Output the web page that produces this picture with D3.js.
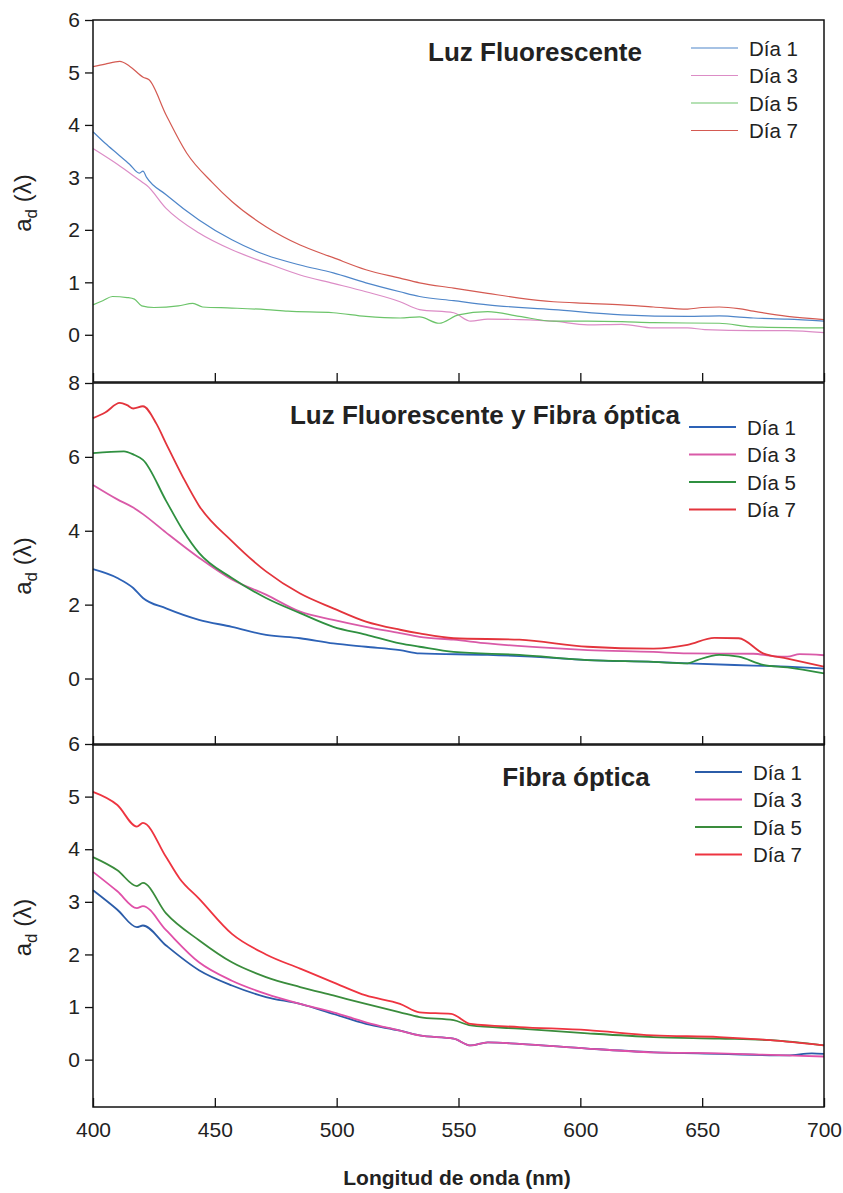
<!DOCTYPE html>
<html>
<head>
<meta charset="utf-8">
<script src="https://cdn.jsdelivr.net/npm/d3@7"></script>
<style>
  body { margin: 0; background: #fff; }
  text { font-family: "Liberation Sans", Arial, sans-serif; fill: #222; }
</style>
</head>
<body>
<div id="chart"></div>
<script>
// wavelength ticks
const xTicks = [400, 450, 500, 550, 600, 650, 700];
const dayLabels = ["Día 1", "Día 3", "Día 5", "Día 7"];

// Panel 1: Luz Fluorescente  [nm, a_d]
const fl_d1 = [[400,3.87],[405,3.65],[410,3.45],[415,3.25],[419,3.08],[420.5,3.12],[422,3.0],[430,2.67],[443.5,2.19],[457,1.81],[471,1.52],[485,1.33],[498.6,1.18],[512,0.99],[526,0.82],[534,0.73],[548,0.65],[562,0.57],[589,0.48],[617,0.38],[644,0.35],[657,0.36],[671,0.32],[685,0.3],[700,0.26]];
const fl_d3 = [[400,3.55],[410,3.25],[419,2.95],[420.5,2.9],[422,2.85],[430,2.41],[443.5,1.94],[457,1.62],[471,1.37],[485,1.14],[498.6,0.98],[512,0.82],[526,0.63],[534,0.48],[548,0.42],[555,0.26],[562,0.3],[575,0.29],[589,0.26],[603,0.19],[617,0.2],[630,0.13],[644,0.13],[651,0.1],[671,0.08],[685,0.08],[700,0.04]];
const fl_d5 = [[400,0.57],[404,0.65],[408,0.73],[414,0.71],[417,0.68],[420,0.55],[425,0.52],[435,0.55],[441,0.6],[445,0.53],[457,0.51],[471,0.48],[480,0.45],[498.6,0.42],[512,0.35],[526,0.32],[534,0.34],[542,0.22],[550,0.38],[562,0.44],[575,0.35],[589,0.26],[603,0.26],[617,0.25],[630,0.23],[657,0.22],[671,0.15],[700,0.13]];
const fl_d7 = [[400,5.11],[405,5.16],[411,5.21],[415,5.12],[420.6,4.91],[423,4.86],[430,4.19],[438.5,3.46],[449,2.9],[457,2.54],[471,2.06],[485,1.71],[498.6,1.47],[512,1.24],[526,1.08],[534,0.99],[548,0.89],[562,0.79],[575,0.7],[589,0.63],[603,0.6],[617,0.57],[630,0.53],[644,0.49],[650,0.52],[657,0.53],[665,0.5],[671,0.45],[685,0.35],[700,0.29]];

// Panel 2: Luz Fluorescente y Fibra óptica
const ff_d1 = [[400,2.96],[410,2.72],[416.5,2.45],[420.5,2.18],[430,1.9],[443.5,1.59],[457,1.4],[471,1.18],[485,1.09],[498.6,0.95],[512,0.86],[526,0.77],[534,0.68],[562,0.64],[589,0.56],[603,0.5],[630,0.45],[644,0.41],[671,0.35],[685,0.32],[700,0.27]];
const ff_d3 = [[400,5.24],[410,4.85],[416.5,4.63],[420.5,4.45],[430,3.95],[443.5,3.27],[457,2.68],[471,2.27],[485,1.81],[498.6,1.59],[512,1.4],[526,1.23],[534,1.13],[548,1.05],[562,0.95],[589,0.82],[603,0.77],[630,0.72],[644,0.68],[671,0.67],[680,0.6],[685,0.59],[690,0.66],[700,0.63]];
const ff_d5 = [[400,6.1],[412.7,6.15],[417,6.05],[420.5,5.92],[430,4.81],[437,4.0],[443.5,3.4],[457,2.72],[471,2.18],[485,1.77],[498.6,1.4],[512,1.19],[526,0.95],[534,0.86],[548,0.72],[575,0.64],[603,0.5],[630,0.45],[644,0.41],[648,0.5],[657,0.64],[665,0.59],[675,0.37],[685,0.3],[700,0.14]];
const ff_d7 = [[400,7.05],[405,7.2],[411,7.46],[414,7.4],[416.5,7.31],[420.5,7.37],[426,6.9],[430,6.36],[437,5.44],[443.5,4.68],[457,3.72],[471,2.9],[485,2.3],[498.6,1.9],[512,1.54],[526,1.32],[534,1.22],[548,1.09],[575,1.05],[603,0.86],[630,0.81],[644,0.91],[655,1.1],[665,1.09],[675,0.68],[685,0.54],[700,0.32]];

// Panel 3: Fibra óptica
const fo_d1 = [[400,3.22],[410,2.85],[418,2.52],[420.5,2.55],[430,2.17],[443.5,1.7],[457,1.41],[471,1.19],[485,1.06],[498.6,0.87],[512,0.68],[526,0.55],[534,0.46],[548,0.4],[555,0.27],[562,0.33],[575,0.3],[603,0.21],[630,0.14],[657,0.11],[685,0.08],[695,0.12],[700,0.11]];
const fo_d3 = [[400,3.57],[410,3.2],[418,2.88],[420.5,2.92],[430,2.46],[443.5,1.85],[457,1.5],[471,1.25],[485,1.06],[498.6,0.9],[512,0.71],[526,0.55],[534,0.46],[548,0.4],[555,0.27],[562,0.33],[575,0.3],[603,0.21],[630,0.14],[657,0.12],[685,0.08],[700,0.06]];
const fo_d5 = [[400,3.85],[410,3.6],[418,3.3],[420.5,3.36],[430,2.78],[443.5,2.27],[457,1.85],[471,1.57],[485,1.38],[498.6,1.22],[512,1.06],[526,0.9],[534,0.81],[548,0.75],[555,0.65],[575,0.59],[603,0.5],[630,0.43],[657,0.4],[678,0.37],[700,0.27]];
const fo_d7 = [[400,5.09],[410,4.84],[418,4.43],[420.5,4.5],[430,3.85],[435.6,3.44],[443.5,3.06],[457,2.39],[471,2.0],[485,1.73],[498.6,1.47],[512,1.22],[526,1.06],[534,0.9],[547,0.87],[555,0.68],[575,0.62],[603,0.56],[630,0.46],[657,0.43],[678,0.37],[700,0.27]];

const panels = [
  { title: "Luz Fluorescente", series: [fl_d1, fl_d3, fl_d5, fl_d7], yDomain: [-0.9, 6], yTicks: [0,1,2,3,4,5,6],
    colors: ["#4f86c9", "#dc8cc6", "#6cc46a", "#d45a52"], width: 1.2,
    top: 20, bottom: 382, titleX: 535, titleY: 61, legX: 691, legY: 48 },
  { title: "Luz Fluorescente y Fibra óptica", series: [ff_d1, ff_d3, ff_d5, ff_d7], yDomain: [-1.8, 8], yTicks: [0,2,4,6,8],
    colors: ["#2d62b6", "#d95aa8", "#2f9040", "#e3343c"], width: 1.8,
    top: 383, bottom: 745, titleX: 485, titleY: 424, legX: 689, legY: 427 },
  { title: "Fibra óptica", series: [fo_d1, fo_d3, fo_d5, fo_d7], yDomain: [-0.9, 6], yTicks: [0,1,2,3,4,5,6],
    colors: ["#2b5ca8", "#e050a8", "#3a8c3c", "#ee3440"], width: 1.8,
    top: 744, bottom: 1107, titleX: 576, titleY: 786, legX: 695, legY: 772 }
];

const width = 843, height = 1193;
const left = 93, right = 824;

const svg = d3.select("#chart").append("svg").attr("width", width).attr("height", height);

const x = d3.scaleLinear().domain([400, 700]).range([left, right]);

panels.forEach((p, pi) => {
  const y = d3.scaleLinear().domain(p.yDomain).range([p.bottom, p.top]);
  const g = svg.append("g");

  // lines
  const line = d3.line().curve(d3.curveMonotoneX).x(d => x(d[0])).y(d => y(d[1]));
  p.series.forEach((s, i) => {
    g.append("path").datum(s)
      .attr("fill", "none")
      .attr("stroke", p.colors[i])
      .attr("stroke-width", p.width)
      .attr("stroke-linejoin", "round")
      .attr("d", line);
  });

  // frame
  g.append("rect").attr("x", left).attr("y", p.top)
    .attr("width", right - left).attr("height", p.bottom - p.top)
    .attr("fill", "none").attr("stroke", "#111").attr("stroke-width", 1.5);

  // y axis
  const ya = g.append("g").attr("transform", `translate(${left},0)`)
    .call(d3.axisLeft(y).tickValues(p.yTicks).tickSize(8).tickSizeOuter(0).tickPadding(5).tickFormat(d3.format("d")));
  ya.select(".domain").remove();
  ya.selectAll("line").attr("stroke", "#111").attr("stroke-width", 1.3);
  ya.selectAll("text").attr("font-size", 21).attr("fill", "#222")
    .style("font-family", "'Liberation Sans', Arial, sans-serif");

  // x axis (ticks inward)
  const xa = g.append("g").attr("transform", `translate(0,${p.bottom})`)
    .call(d3.axisBottom(x).tickValues(xTicks).tickSize(-9).tickSizeOuter(0).tickPadding(15)
      .tickFormat(pi === 2 ? d3.format("d") : () => ""));
  xa.select(".domain").remove();
  xa.selectAll("line").attr("stroke", "#111").attr("stroke-width", 1.3);
  xa.selectAll("text").attr("font-size", 21).attr("fill", "#222")
    .style("font-family", "'Liberation Sans', Arial, sans-serif");

  // y label a_d (λ)
  const yl = g.append("text")
    .attr("transform", `translate(31,${(p.top + p.bottom) / 2 + 2}) rotate(-90)`)
    .attr("text-anchor", "middle").attr("font-size", 24);
  yl.append("tspan").text("a");
  yl.append("tspan").attr("font-size", 17).attr("dy", 6).text("d");
  yl.append("tspan").attr("dy", -6).text(" (λ)");

  // panel title
  g.append("text").attr("x", p.titleX).attr("y", p.titleY)
    .attr("text-anchor", "middle").attr("font-size", 26).attr("font-weight", "bold")
    .text(p.title);

  // legend
  dayLabels.forEach((lab, i) => {
    const ly = p.legY + i * 27.5;
    g.append("line").attr("x1", p.legX).attr("x2", p.legX + 47)
      .attr("y1", ly).attr("y2", ly)
      .attr("stroke", p.colors[i]).attr("stroke-width", p.width);
    g.append("text").attr("x", p.legX + 58).attr("y", ly + 7.5)
      .attr("font-size", 20.5).text(lab);
  });
});

svg.append("text").attr("x", 457).attr("y", 1185)
  .attr("text-anchor", "middle").attr("font-size", 21).attr("font-weight", "bold")
  .text("Longitud de onda (nm)");
</script>
</body>
</html>
